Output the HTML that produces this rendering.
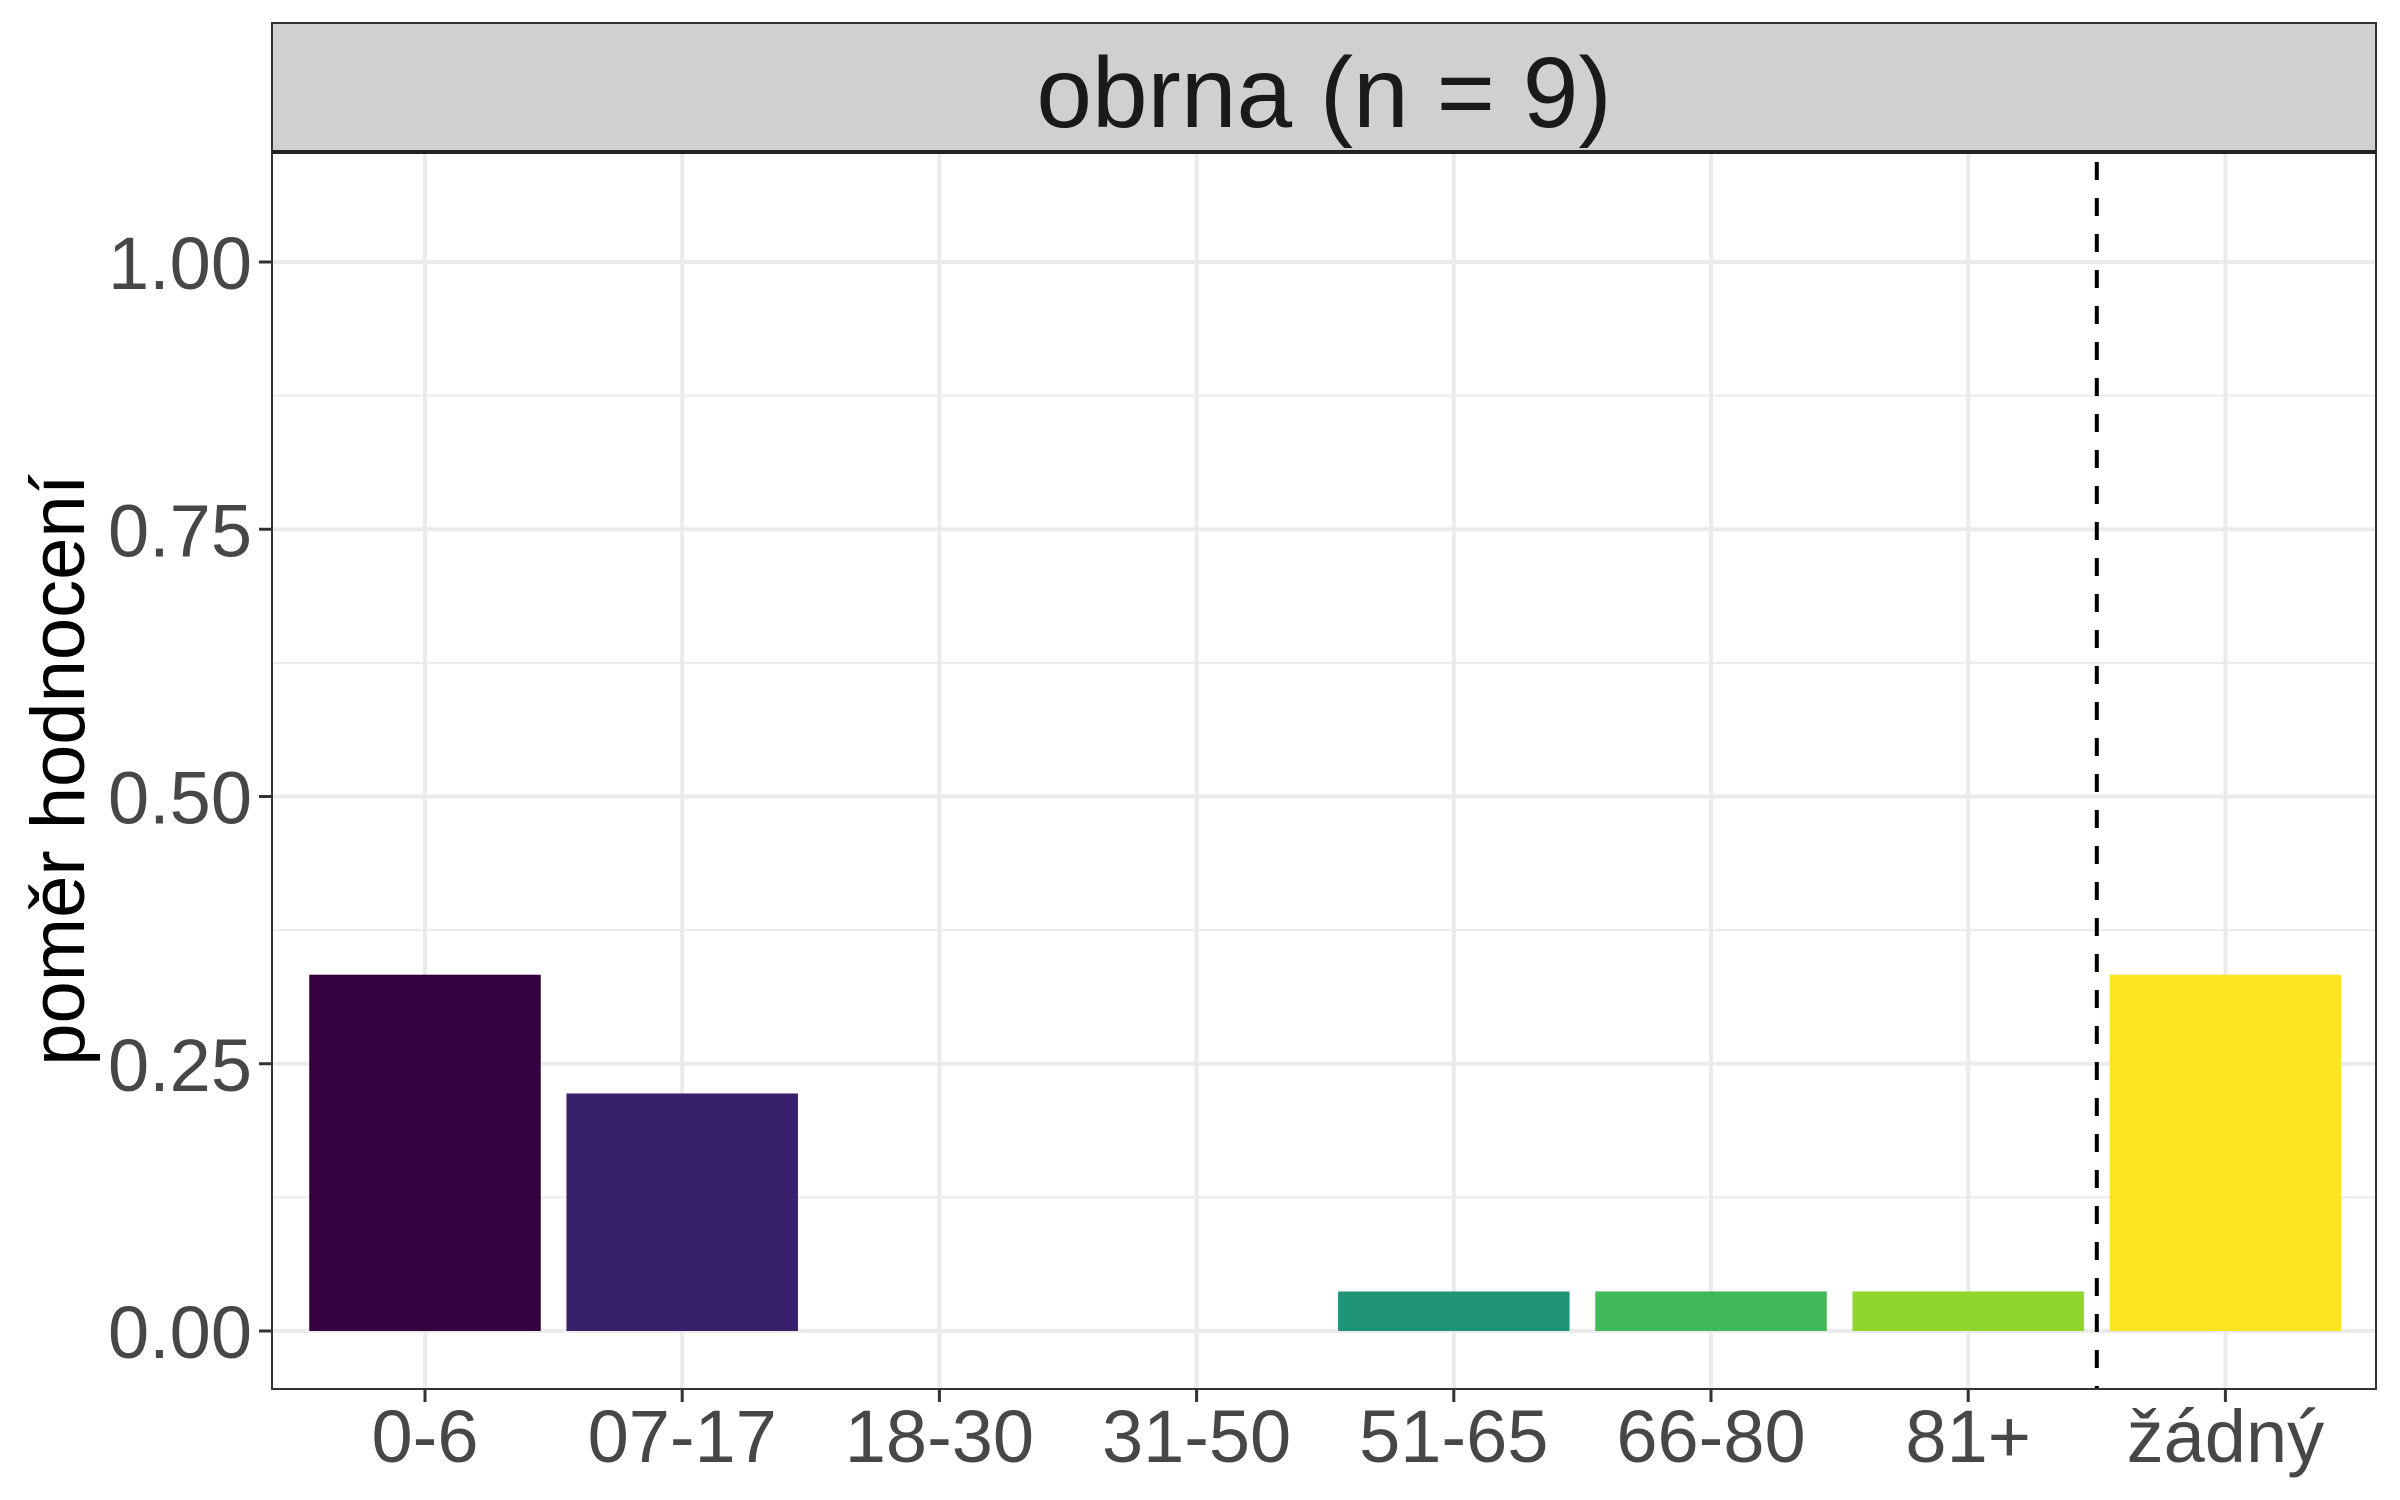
<!DOCTYPE html>
<html><head><meta charset="utf-8">
<style>
html,body{margin:0;padding:0;background:#fff;}
svg{display:block;}
text{font-family:"Liberation Sans",sans-serif;}
</style></head>
<body>
<svg id="chart" width="2400" height="1500" viewBox="0 0 2400 1500" xmlns="http://www.w3.org/2000/svg">
  <rect x="0" y="0" width="2400" height="1500" fill="#fff"/>
  <g id="grid"></g>
  <g id="bars"></g>
  <g id="axes"></g>
  <rect x="272" y="23" width="2104" height="129" fill="#d0d0d0" stroke="#333" stroke-width="2"/>
  <line x1="272" y1="152" x2="2376" y2="152" stroke="#222" stroke-width="4"/>
  <text x="1324" y="127" text-anchor="middle" font-size="100" fill="#1a1a1a">obrna (n = 9)</text>
  <text transform="translate(84,770) rotate(-90)" text-anchor="middle" font-size="76" fill="#000">poměr hodnocení</text>
</svg>
<script>
const categories = ["0-6","07-17","18-30","31-50","51-65","66-80","81+","žádný"];
const values = [0.3333, 0.2222, 0, 0, 0.037, 0.037, 0.037, 0.3333];
const colors = ["#35003f","#38216a","#2c4c8c","#25748d","#1f9477","#40b958","#8fd62d","#fae51f"];
const yTicks = [0, 0.25, 0.5, 0.75, 1.0];
const yTickLabels = ["0.00","0.25","0.50","0.75","1.00"];
const yMinor = [0.125, 0.375, 0.625, 0.875];
const dividerPos = 6.5;

const NS = "http://www.w3.org/2000/svg";
const PL = 272, PR = 2376, PT = 152, PB = 1389;
const X0 = 425, STEP = 257.2;
const Y0 = 1331, YSCALE = 1069;
function xs(i){ return X0 + i*STEP; }
function ys(v){ return Y0 - v*YSCALE; }
function mk(tag, attrs, parent){
  const e = document.createElementNS(NS, tag);
  for (const k in attrs) e.setAttribute(k, attrs[k]);
  parent.appendChild(e);
  return e;
}
const grid = document.getElementById('grid');
const bars = document.getElementById('bars');
const axes = document.getElementById('axes');

yMinor.forEach(v=>{
  const l = mk('line',{x1:PL,x2:PR,y1:ys(v),y2:ys(v),stroke:'#ebebeb','stroke-width':2},grid);
  
  
});
yTicks.forEach((v,i)=>{
  const l = mk('line',{x1:PL,x2:PR,y1:ys(v),y2:ys(v),stroke:'#ebebeb','stroke-width':4},grid);
  
  
  const t = mk('line',{x1:PL-13,x2:PL,y1:ys(v),y2:ys(v),stroke:'#333','stroke-width':3},axes);
  
  
  const tx = mk('text',{x:PL-20,y:ys(v)+27,'text-anchor':'end','font-size':'74',fill:'#474747'},axes);
  tx.textContent = yTickLabels[i];
  
  
});
categories.forEach((c,i)=>{
  const l = mk('line',{x1:xs(i),x2:xs(i),y1:PT,y2:PB,stroke:'#ebebeb','stroke-width':4},grid);
  
  
  const bw = STEP*0.9;
  if (values[i] > 0){
    const r = mk('rect',{x:xs(i)-bw/2,y:ys(values[i]),width:bw,height:ys(0)-ys(values[i]),fill:colors[i]},bars);
    
    
  }
  const t = mk('line',{x1:xs(i),x2:xs(i),y1:PB,y2:PB+13,stroke:'#333','stroke-width':3},axes);
  
  
  const tx = mk('text',{x:xs(i),y:1462,'text-anchor':'middle','font-size':'74',fill:'#474747'},axes);
  tx.textContent = c;
  
  
});
const dl = mk('line',{x1:xs(dividerPos),x2:xs(dividerPos),y1:PT+10,y2:PB,stroke:'#000','stroke-width':4,'stroke-dasharray':'18 18'},axes);


const frame = mk('rect',{x:PL,y:PT,width:PR-PL,height:PB-PT,fill:'none',stroke:'#333','stroke-width':2},axes);


</script>
</body></html>
